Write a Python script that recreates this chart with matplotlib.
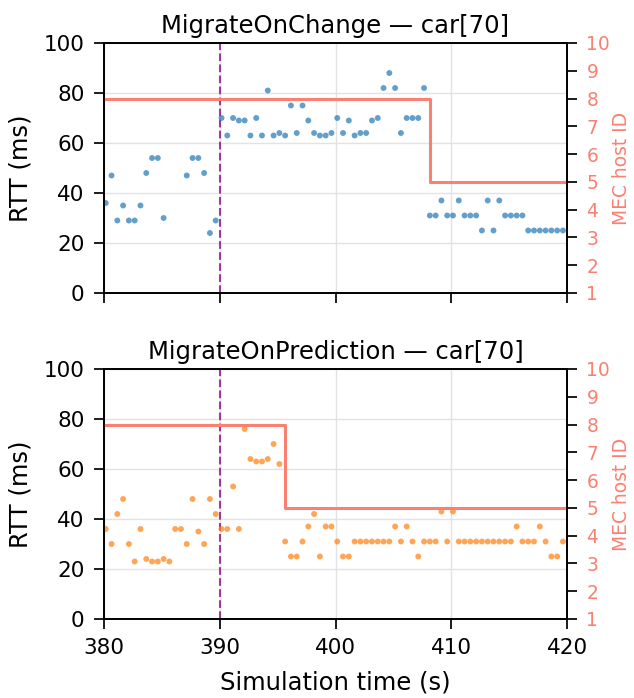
import numpy as np
import matplotlib
matplotlib.use("Agg")
import matplotlib.pyplot as plt

# sample times / RTT values
t_change = [380.15, 380.65, 381.15, 381.65, 382.15, 382.65, 383.15, 383.65, 384.15, 384.65,
            385.15, 387.15, 387.65, 388.15, 388.65, 389.15, 389.65, 390.15, 390.65, 391.15,
            391.65, 392.15, 392.65, 393.15, 393.65, 394.15, 394.65, 395.15, 395.65, 396.15,
            396.65, 397.15, 397.65, 398.15, 398.65, 399.15, 399.65, 400.15, 400.65, 401.15,
            401.65, 402.15, 402.65, 403.15, 403.65, 404.15, 404.65, 405.15, 405.65, 406.15,
            406.65, 407.15, 407.65, 408.15, 408.65, 409.15, 409.65, 410.15, 410.65, 411.15,
            411.65, 412.15, 412.65, 413.15, 413.65, 414.15, 414.65, 415.15, 415.65, 416.15,
            416.65, 417.15, 417.65, 418.15, 418.65, 419.15, 419.65]
rtt_change = [36, 47, 29, 35, 29, 29, 35, 48, 54, 54,
              30, 47, 54, 54, 48, 24, 29, 70, 63, 70,
              69, 69, 63, 70, 63, 81, 63, 64, 63, 75,
              64, 75, 69, 64, 63, 63, 64, 70, 64, 69,
              63, 64, 64, 69, 70, 82, 88, 82, 64, 70,
              70, 70, 82, 31, 31, 37, 31, 31, 37, 31,
              31, 31, 25, 37, 25, 37, 31, 31, 31, 31,
              25, 25, 25, 25, 25, 25, 25]

t_pred = [380.15, 380.65, 381.15, 381.65, 382.15, 382.65, 383.15, 383.65, 384.15, 384.65,
          385.15, 385.65, 386.15, 386.65, 387.15, 387.65, 388.15, 388.65, 389.15, 389.65,
          390.15, 390.65, 391.15, 391.65, 392.15, 392.65, 393.15, 393.65, 394.15, 394.65,
          395.15, 395.65, 396.15, 396.65, 397.15, 397.65, 398.15, 398.65, 399.15, 399.65,
          400.15, 400.65, 401.15, 401.65, 402.15, 402.65, 403.15, 403.65, 404.15, 404.65,
          405.15, 405.65, 406.15, 406.65, 407.15, 407.65, 408.15, 408.65, 409.15, 409.65,
          410.15, 410.65, 411.15, 411.65, 412.15, 412.65, 413.15, 413.65, 414.15, 414.65,
          415.15, 415.65, 416.15, 416.65, 417.15, 417.65, 418.15, 418.65, 419.15, 419.65]
rtt_pred = [36, 30, 42, 48, 30, 23, 36, 24, 23, 23,
            24, 23, 36, 36, 30, 48, 35, 30, 48, 42,
            36, 36, 53, 36, 76, 64, 63, 63, 64, 70,
            62, 31, 25, 25, 31, 37, 42, 25, 37, 37,
            31, 25, 25, 31, 31, 31, 31, 31, 31, 31,
            37, 31, 37, 31, 25, 31, 31, 31, 43, 31,
            43, 31, 31, 31, 31, 31, 31, 31, 31, 31,
            31, 37, 31, 31, 31, 37, 31, 25, 25, 31]

# MEC host id (step changes)
host_t_change = [380, 408.15, 420]
host_change = [8, 5, 5]
host_t_pred = [380, 395.65, 420]
host_pred = [8, 5, 5]

event_t = 390

panels = [
    ("MigrateOnChange \u2014 car[70]", t_change, rtt_change, host_t_change, host_change, "tab:blue"),
    ("MigrateOnPrediction \u2014 car[70]", t_pred, rtt_pred, host_t_pred, host_pred, "tab:orange"),
]

fig = plt.figure(figsize=(6.34, 6.98), dpi=100)
W, H = 634.0, 698.0
rects = [[104 / W, 1 - 293 / H, 463 / W, 250 / H],
         [104 / W, 1 - 619 / H, 463 / W, 250 / H]]

axes = []
for i, (title, t, rtt, ht, hid, col) in enumerate(panels):
    if i == 0:
        ax = fig.add_axes(rects[i])
    else:
        ax = fig.add_axes(rects[i], sharex=axes[0])
    axes.append(ax)

    ax.scatter(t, rtt, s=18, color=col, alpha=0.7, edgecolors="none", zorder=3)
    ax.axvline(event_t, color="purple", ls="--", lw=1.5, alpha=0.75, zorder=2)
    ax.set_xlim(380, 420)
    ax.set_ylim(0, 100)
    ax.set_xticks([380, 390, 400, 410, 420])
    ax.set_yticks(np.arange(0, 101, 20))
    ax.grid(True, color="#e2e2e2", lw=1)
    ax.set_axisbelow(True)
    ax.set_title(title, fontsize=17.5, pad=7)
    ax.set_ylabel("RTT (ms)", fontsize=17.5, labelpad=8)
    ax.tick_params(labelsize=15.5, length=7, width=1.25, pad=7)
    for s in ax.spines.values():
        s.set_linewidth(1.25)

    ax2 = ax.twinx()
    ax2.plot(ht, hid, drawstyle="steps-post", color="salmon", lw=2.2)
    ax2.set_ylim(1, 10)
    ax2.set_yticks(range(1, 11))
    ax2.tick_params(axis="y", labelcolor="salmon", labelsize=13.4, length=7, width=1.25, pad=7)
    ax2.set_ylabel("MEC host ID", color="salmon", fontsize=13.4, labelpad=1)
    for s in ax2.spines.values():
        s.set_linewidth(1.25)

axes[0].tick_params(axis="x", labelbottom=False)
axes[1].set_xlabel("Simulation time (s)", fontsize=17.5, labelpad=9)

fig.savefig("out.png", dpi=100)
